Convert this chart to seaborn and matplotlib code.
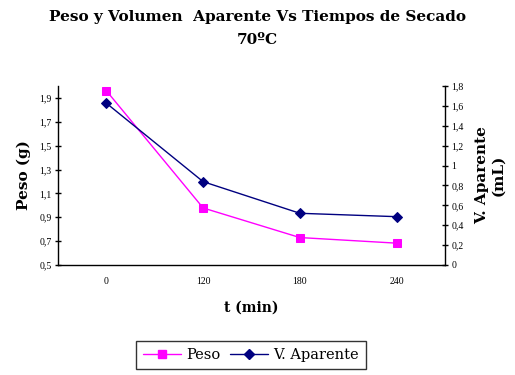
import matplotlib
matplotlib.use("Agg")
import matplotlib.pyplot as plt
import seaborn as sns
import pandas as pd
from matplotlib.lines import Line2D

categorias = ["0", "120", "180", "240"]
peso = [1.96, 0.978, 0.73, 0.683]
volumen = [1.627, 0.838, 0.52, 0.486]
yticks_peso = [0.5, 0.7, 0.9, 1.1, 1.3, 1.5, 1.7, 1.9]
yticks_vol = [0, 0.2, 0.4, 0.6, 0.8, 1, 1.2, 1.4, 1.6, 1.8]

def coma(v):
    s = ("%g" % v).replace(".", ",")
    return s

sns.set_style("white")
plt.rcParams["font.family"] = ["DejaVu Serif"]
plt.rcParams["text.color"] = "black"
plt.rcParams["axes.labelcolor"] = "black"
plt.rcParams["xtick.color"] = "black"
plt.rcParams["ytick.color"] = "black"

df = pd.DataFrame({"t": categorias, "Peso": peso, "V": volumen})

fig = plt.figure(figsize=(5.15, 3.75), dpi=100)
ax = fig.add_axes([58 / 515, 1 - 265 / 375, (445 - 58) / 515, (265 - 86) / 375])
ax2 = ax.twinx()

sns.lineplot(data=df, x="t", y="Peso", ax=ax, color="#FF00FF", marker="s",
             markersize=6, markeredgecolor="#FF00FF", linewidth=1, sort=False)
sns.lineplot(data=df, x="t", y="V", ax=ax2, color="#000080", marker="D",
             markersize=5.5, markeredgecolor="#000080", linewidth=1, sort=False)

n = len(categorias)
ax.set_xlim(-0.5, n - 0.5)
ax.set_xticks([i - 0.5 for i in range(n + 1)])
ax.set_xticklabels([])
ax.set_xticks(range(n), minor=True)
ax.set_xticklabels(categorias, minor=True, fontfamily="Liberation Serif", fontsize=7)
ax.tick_params(axis="x", which="minor", length=0, pad=9)
ax.tick_params(axis="x", which="major", direction="inout", length=5, width=1, color="black")

ax.set_ylim(0.5, 2.0)
ax.set_yticks(yticks_peso)
ax.set_yticklabels([coma(v) for v in yticks_peso], fontfamily="Liberation Serif", fontsize=7)
ax.tick_params(axis="y", direction="inout", length=5, width=1, color="black", pad=2, left=True)

ax2.set_ylim(0, 1.8)
ax2.set_yticks(yticks_vol)
ax2.set_yticklabels([coma(v) for v in yticks_vol], fontfamily="Liberation Serif", fontsize=7)
ax2.tick_params(axis="y", direction="inout", length=5, width=1, color="black", pad=2, right=True)

for a in (ax, ax2):
    a.spines["top"].set_visible(False)
    for s in ("left", "right", "bottom"):
        a.spines[s].set_color("black")
        a.spines[s].set_linewidth(1)
    a.grid(False)
ax.spines["right"].set_visible(False)
ax2.spines["left"].set_visible(False)
ax2.spines["bottom"].set_visible(False)

ax.set_xlabel("t (min)", fontweight="bold", fontsize=10, labelpad=10, color="black")
ax.set_ylabel("Peso (g)", fontweight="bold", fontsize=11, labelpad=6, color="black")
ax2.set_ylabel("V. Aparente\n(mL)", fontweight="bold", fontsize=11, labelpad=8,
               linespacing=1.2, color="black")

fig.text(0.5, 1 - 17 / 375, "Peso y Volumen  Aparente Vs Tiempos de Secado",
         ha="center", va="center", fontweight="bold", fontsize=11, color="black")
fig.text(0.5, 1 - 40 / 375, "70ºC", ha="center", va="center",
         fontweight="bold", fontsize=11, color="black")

handles = [
    Line2D([], [], color="#FF00FF", marker="s", markersize=6, linewidth=1),
    Line2D([], [], color="#000080", marker="D", markersize=5.5, linewidth=1),
]
leg = fig.legend(handles, ["Peso", "V. Aparente"], loc="center",
                 bbox_to_anchor=(251 / 515, 1 - 355 / 375), ncol=2,
                 frameon=True, fancybox=False, edgecolor="black",
                 prop={"family": "DejaVu Serif", "size": 10.5},
                 handlelength=2.6, handletextpad=0.4, columnspacing=0.6,
                 borderpad=0.45)
leg.get_frame().set_linewidth(1)
for t in leg.get_texts():
    t.set_color("black")

fig.savefig("out.png", dpi=100)
